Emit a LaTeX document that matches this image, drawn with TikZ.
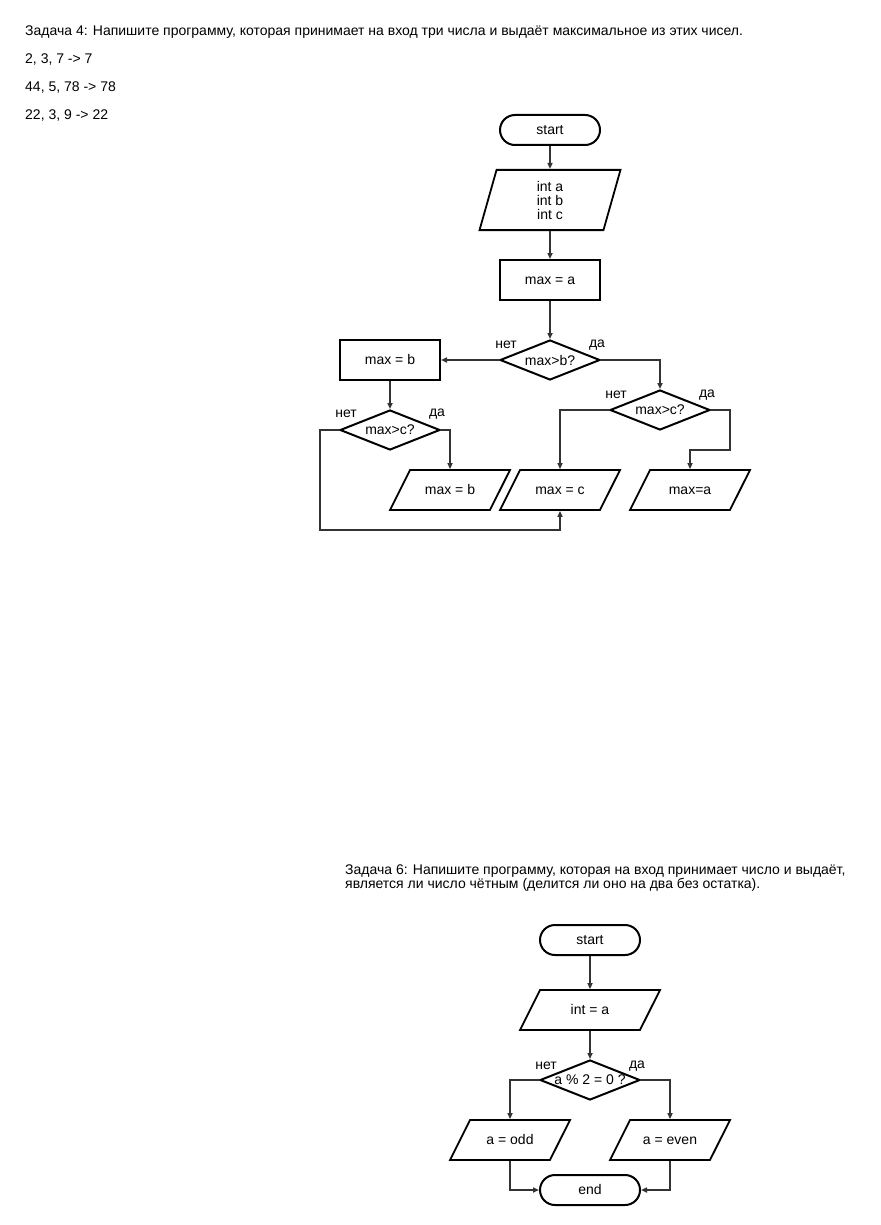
\documentclass[tikz,border=0pt]{standalone}
\usepackage{fontspec}
\setmainfont{Liberation Sans}
\usetikzlibrary{arrows.meta,shapes.geometric}

\begin{document}
\begin{tikzpicture}[x=1pt,y=-1pt,>={Triangle[length=6pt,width=5pt]},
        font=\fontsize{14}{14}\selectfont,
        txt/.style={text height=11.5pt,text depth=3pt},
        term/.style={draw,line width=2pt,rounded corners=15pt,minimum width=100pt,minimum height=30pt,inner sep=0pt,txt},
        proc/.style={draw,line width=2pt,minimum width=100pt,minimum height=40pt,inner sep=0pt,txt},
        io/.style={draw,line width=1.8pt,trapezium,trapezium left angle=63.4,trapezium right angle=116.6,
            trapezium stretches body=true,minimum width=120pt,inner xsep=0pt,inner ysep=12.75pt},
        cond/.style={draw,line width=2pt,diamond,minimum width=100pt,minimum height=40pt,inner sep=0pt},
        flow/.style={->,line width=1.6pt,draw=black!80},
        tag/.style={inner sep=0pt}]
    \useasboundingbox (0,0) rectangle (880,1225);
    % --- Task 4: statement and examples ---
    \node[tag,anchor=west] (t4) at (25,32) {Задача 4: Напишите программу, которая принимает на вход три числа и выдаёт максимальное из этих чисел.};
    \node[tag,anchor=west] (ex1) at (25,60) {2, 3, 7 -> 7};
    \node[tag,anchor=west] (ex2) at (25,88) {44, 5, 78 -> 78};
    \node[tag,anchor=west] (ex3) at (25,116) {22, 3, 9 -> 22};
    % --- Task 4: flowchart ---
    \node[term] (s1) at (550,130) {start};
    \node[io,trapezium left angle=74.2,trapezium right angle=105.8,minimum width=141pt,inner ysep=11pt,align=center] (in1) at (550,200) {int a\\ int b\\ int c};
    \node[proc] (m1) at (550,280) {max = a};
    \node[cond,label=center:{max>b?}] (q1) at (550,360) {};
    \node[proc] (mb) at (390,360) {max = b};
    \node[cond,label=center:{max>c?}] (q2) at (660,410) {};
    \node[cond,label=center:{max>c?}] (q3) at (390,430) {};
    \node[io,txt] (ob) at (450,490) {max = b};
    \node[io,txt] (oc) at (560,490) {max = c};
    \node[io,txt] (oa) at (690,490) {max=a};
    \node[tag] (n1) at (506,345) {нет};
    \node[tag] (y1) at (597,345) {да};
    \node[tag] (n2) at (616,395) {нет};
    \node[tag] (y2) at (707,395) {да};
    \node[tag] (n3) at (346,414) {нет};
    \node[tag] (y3) at (437,414) {да};
    \coordinate (k1) at (320,530);
    \coordinate (k2) at (730,450);
    \draw[flow] (s1) -- (in1);
    \draw[flow] (in1) -- (m1);
    \draw[flow] (m1) -- (q1);
    \draw[flow] (q1.west) -- (mb.east);
    \draw[flow] (q1.east) -| (q2.north);
    \draw[flow] (mb) -- (q3);
    \draw[flow] (q3.east) -| (ob.north);
    \draw[flow] (q2.west) -| (oc.north);
    \draw[flow] (q2.east) -| (k2) -| (oa.north);
    \draw[flow] (q3.west) -| (k1) -| (oc.south);
    % --- Task 6: statement ---
    \node[tag,anchor=north west,align=left] (t6) at (345,865) {Задача 6: Напишите программу, которая на вход принимает число и выдаёт,\\является ли число чётным (делится ли оно на два без остатка).};
    % --- Task 6: flowchart ---
    \node[term] (s2) at (590,940) {start};
    \node[io,txt,minimum width=140pt] (in2) at (590,1010) {int = a};
    \node[cond,label=center:{a \% 2 = 0 ?}] (q4) at (590,1080) {};
    \node[io,txt] (odd) at (510,1140) {a = odd};
    \node[io,txt] (even) at (670,1140) {a = even};
    \node[term] (e2) at (590,1190) {end};
    \node[tag] (n4) at (546,1066) {нет};
    \node[tag] (y4) at (637,1066) {да};
    \draw[flow] (s2) -- (in2);
    \draw[flow] (in2) -- (q4);
    \draw[flow] (q4.west) -| (odd.north);
    \draw[flow] (q4.east) -| (even.north);
    \draw[flow] (odd.south) |- (e2.west);
    \draw[flow] (even.south) |- (e2.east);
\end{tikzpicture}
\end{document}
